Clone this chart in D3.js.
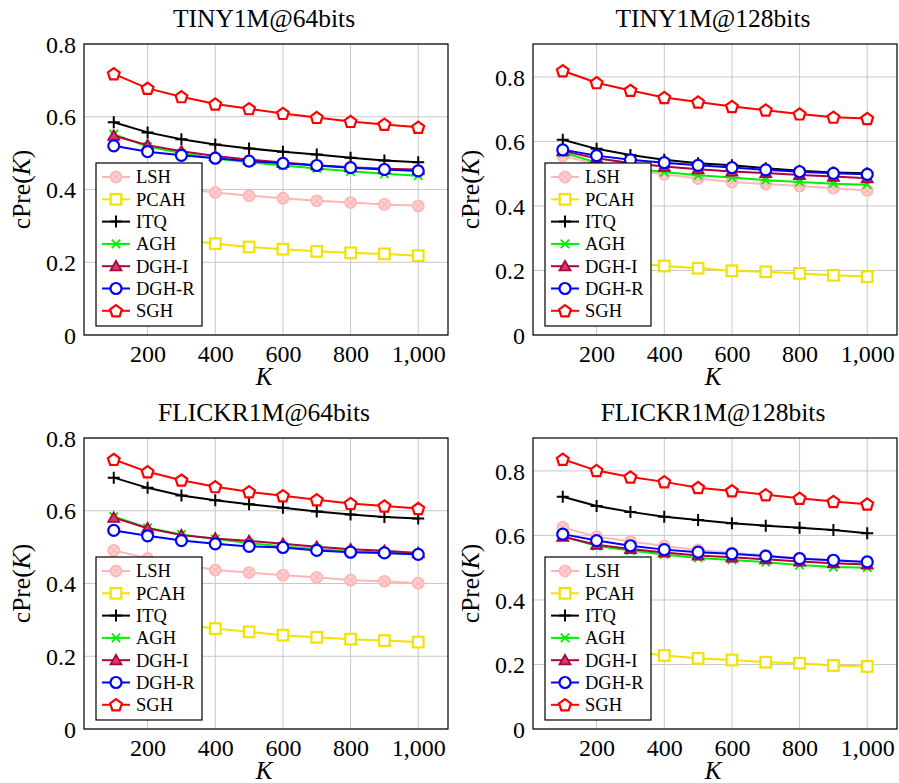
<!DOCTYPE html>
<html>
<head>
<meta charset="utf-8">
<script src="https://cdn.jsdelivr.net/npm/d3@7"></script>
<style>
  html, body { margin: 0; padding: 0; background: #fff; }
  svg { display: block; font-family: "Liberation Serif", "DejaVu Serif", serif; }
</style>
</head>
<body>
<svg id="chart" width="899" height="783"></svg>
<script>
// ---------------- data ----------------
const K = [100, 200, 300, 400, 500, 600, 700, 800, 900, 1000];
const methods = ["LSH", "PCAH", "ITQ", "AGH", "DGH-I", "DGH-R", "SGH"];
const xTicks = [200, 400, 600, 800, 1000];
const xTickLabels = ["200", "400", "600", "800", "1,000"];
const yTicks = [0, 0.2, 0.4, 0.6, 0.8];
const yTickLabels = ["0", "0.2", "0.4", "0.6", "0.8"];
const titles = ["TINY1M@64bits", "TINY1M@128bits", "FLICKR1M@64bits", "FLICKR1M@128bits"];
const yMax = [0.8, 0.902, 0.8, 0.902];

// series values, in order of `methods`
const tiny64 = [
  [0.448, 0.420, 0.403, 0.392, 0.383, 0.376, 0.369, 0.364, 0.359, 0.355],
  [0.300, 0.276, 0.262, 0.251, 0.242, 0.236, 0.230, 0.226, 0.223, 0.218],
  [0.585, 0.557, 0.538, 0.524, 0.513, 0.504, 0.496, 0.487, 0.480, 0.475],
  [0.552, 0.518, 0.500, 0.485, 0.475, 0.466, 0.458, 0.450, 0.443, 0.438],
  [0.548, 0.522, 0.505, 0.492, 0.482, 0.474, 0.467, 0.461, 0.457, 0.455],
  [0.520, 0.504, 0.494, 0.486, 0.478, 0.472, 0.466, 0.460, 0.455, 0.451],
  [0.718, 0.678, 0.655, 0.635, 0.622, 0.609, 0.598, 0.587, 0.579, 0.571]
];
const tiny128 = [
  [0.555, 0.530, 0.512, 0.498, 0.485, 0.474, 0.468, 0.462, 0.455, 0.448],
  [0.270, 0.240, 0.225, 0.214, 0.207, 0.199, 0.196, 0.191, 0.185, 0.181],
  [0.605, 0.577, 0.558, 0.543, 0.532, 0.526, 0.517, 0.509, 0.504, 0.501],
  [0.565, 0.535, 0.518, 0.505, 0.495, 0.488, 0.480, 0.474, 0.469, 0.466],
  [0.570, 0.548, 0.533, 0.522, 0.514, 0.507, 0.502, 0.496, 0.491, 0.486],
  [0.574, 0.556, 0.543, 0.534, 0.526, 0.519, 0.512, 0.506, 0.501, 0.498],
  [0.819, 0.782, 0.758, 0.736, 0.722, 0.708, 0.697, 0.685, 0.675, 0.671]
];
const flickr64 = [
  [0.491, 0.469, 0.453, 0.437, 0.430, 0.423, 0.417, 0.409, 0.406, 0.401],
  [0.330, 0.305, 0.287, 0.276, 0.267, 0.258, 0.252, 0.247, 0.243, 0.239],
  [0.691, 0.663, 0.642, 0.629, 0.618, 0.608, 0.598, 0.590, 0.583, 0.579],
  [0.584, 0.553, 0.535, 0.522, 0.511, 0.502, 0.495, 0.488, 0.485, 0.480],
  [0.581, 0.552, 0.533, 0.524, 0.517, 0.509, 0.501, 0.494, 0.490, 0.484],
  [0.546, 0.531, 0.518, 0.509, 0.502, 0.499, 0.491, 0.486, 0.484, 0.480],
  [0.741, 0.707, 0.684, 0.666, 0.652, 0.641, 0.630, 0.620, 0.613, 0.606]
];
const flickr128 = [
  [0.625, 0.596, 0.581, 0.567, 0.555, 0.546, 0.538, 0.530, 0.523, 0.518],
  [0.280, 0.255, 0.240, 0.228, 0.219, 0.214, 0.207, 0.204, 0.197, 0.194],
  [0.720, 0.691, 0.673, 0.658, 0.648, 0.638, 0.630, 0.624, 0.617, 0.607],
  [0.598, 0.567, 0.553, 0.541, 0.530, 0.524, 0.517, 0.508, 0.502, 0.500],
  [0.596, 0.571, 0.558, 0.547, 0.538, 0.532, 0.526, 0.519, 0.514, 0.510],
  [0.604, 0.584, 0.568, 0.556, 0.548, 0.543, 0.536, 0.528, 0.523, 0.518],
  [0.836, 0.801, 0.781, 0.766, 0.748, 0.738, 0.726, 0.715, 0.705, 0.697]
];
const panelData = [tiny64, tiny128, flickr64, flickr128];

// ---------------- styles ----------------
const colors = ["#ffb6b6", "#f2e200", "#000000", "#00ee00", "#b0003f", "#0000ff", "#ff0000"];
const fills  = ["#ffd2d2", "#ffffff", "none", "none", "#c84070", "#ffffff", "#ffffff"];
const markerKinds = ["otimes", "square", "plus", "cross", "triangle", "circle", "pentagon"];

const svg = d3.select("#chart");
const PW = 364, PH = 291;
const origins = [[84, 44], [533, 44], [84, 438], [533, 438]];

function drawMarker(g, kind, x, y, color, fill) {
  if (kind === "circle") {
    g.append("circle").attr("cx", x).attr("cy", y).attr("r", 5.5)
      .attr("fill", fill).attr("stroke", color).attr("stroke-width", 2.2);
  } else if (kind === "otimes") {
    const r = 5.5;
    g.append("circle").attr("cx", x).attr("cy", y).attr("r", r)
      .attr("fill", fill).attr("stroke", color).attr("stroke-width", 1.8);
    const d = r * 0.7;
    g.append("path").attr("d", `M${x-d},${y-d}L${x+d},${y+d}M${x-d},${y+d}L${x+d},${y-d}`)
      .attr("stroke", color).attr("stroke-width", 1.3).attr("fill", "none");
  } else if (kind === "square") {
    const s = 5.3;
    g.append("rect").attr("x", x - s).attr("y", y - s).attr("width", 2 * s).attr("height", 2 * s)
      .attr("fill", fill).attr("stroke", color).attr("stroke-width", 2.2);
  } else if (kind === "plus") {
    const s = 6;
    g.append("path").attr("d", `M${x-s},${y}L${x+s},${y}M${x},${y-s}L${x},${y+s}`)
      .attr("stroke", color).attr("stroke-width", 2).attr("fill", "none");
  } else if (kind === "cross") {
    const s = 4.2;
    g.append("path").attr("d", `M${x-s},${y-s}L${x+s},${y+s}M${x-s},${y+s}L${x+s},${y-s}`)
      .attr("stroke", color).attr("stroke-width", 1.8).attr("fill", "none");
  } else if (kind === "triangle") {
    const r = 6.3;
    const pts = [0, 1, 2].map(i => {
      const a = -Math.PI / 2 + i * 2 * Math.PI / 3;
      return [x + r * Math.cos(a), y + 1 + r * Math.sin(a)];
    });
    g.append("path").attr("d", "M" + pts.join("L") + "Z")
      .attr("fill", fill).attr("stroke", color).attr("stroke-width", 1.8);
  } else if (kind === "pentagon") {
    const r = 6.2;
    const pts = [0, 1, 2, 3, 4].map(i => {
      const a = -Math.PI / 2 + i * 2 * Math.PI / 5;
      return [x + r * Math.cos(a), y + 0.5 + r * Math.sin(a)];
    });
    g.append("path").attr("d", "M" + pts.join("L") + "Z")
      .attr("fill", fill).attr("stroke", color).attr("stroke-width", 2.2);
  }
}

panelData.forEach((series, p) => {
  const [ox, oy] = origins[p];
  const g = svg.append("g").attr("transform", `translate(${ox},${oy})`);
  const x = d3.scaleLinear().domain([12, 1088]).range([0, PW]);
  const y = d3.scaleLinear().domain([0, yMax[p]]).range([PH, 0]);

  // grid
  const grid = g.append("g");
  xTicks.forEach(t => grid.append("line").attr("x1", x(t)).attr("x2", x(t)).attr("y1", 0).attr("y2", PH)
    .attr("stroke", "#c8c8c8").attr("stroke-width", 1));
  yTicks.forEach(t => grid.append("line").attr("x1", 0).attr("x2", PW).attr("y1", y(t)).attr("y2", y(t))
    .attr("stroke", "#c8c8c8").attr("stroke-width", 1));

  // axes via d3
  const xAxis = d3.axisBottom(x).tickValues(xTicks).tickFormat((d, i) => xTickLabels[i]).tickSize(0).tickPadding(8);
  const yAxis = d3.axisLeft(y).tickValues(yTicks).tickFormat((d, i) => yTickLabels[i]).tickSize(0).tickPadding(8);
  const gx = g.append("g").attr("transform", `translate(0,${PH})`).call(xAxis);
  const gy = g.append("g").call(yAxis);
  [gx, gy].forEach(a => {
    a.select(".domain").remove();
    a.selectAll("text").attr("font-family", "Liberation Serif, serif").attr("font-size", 24).attr("fill", "#000");
  });
  gx.selectAll("text").attr("dy", "0.78em");
  gy.selectAll("text").attr("dy", "0.34em");

  // lines + markers
  const line = d3.line().x((d, i) => x(K[i])).y(d => y(d));
  series.forEach((vals, m) => {
    g.append("path").datum(vals).attr("d", line).attr("fill", "none")
      .attr("stroke", colors[m]).attr("stroke-width", 2).attr("stroke-linejoin", "round");
    const mg = g.append("g");
    vals.forEach((v, i) => drawMarker(mg, markerKinds[m], x(K[i]), y(v), colors[m], fills[m]));
  });

  // frame
  g.append("rect").attr("x", 0).attr("y", 0).attr("width", PW).attr("height", PH)
    .attr("fill", "none").attr("stroke", "#000").attr("stroke-width", 1.2);

  // title
  g.append("text").attr("x", PW / 2 - 2).attr("y", -17).attr("text-anchor", "middle")
    .attr("font-size", 25.5).attr("fill", "#000").text(titles[p]);

  // x label
  g.append("text").attr("x", PW / 2 - 2).attr("y", PH + 50).attr("text-anchor", "middle")
    .attr("font-size", 25).attr("font-style", "italic").attr("fill", "#000").text("K");

  // y label
  const yl = g.append("text").attr("transform", `translate(-54,${PH / 2}) rotate(-90)`)
    .attr("text-anchor", "middle").attr("font-size", 25.5).attr("fill", "#000");
  yl.append("tspan").text("cPre(");
  yl.append("tspan").attr("font-style", "italic").text("K");
  yl.append("tspan").text(")");

  // legend
  const lx = 12, ly = 119, lw = 106, lh = 163, rowH = 22.3;
  const lg = g.append("g").attr("transform", `translate(${lx},${ly})`);
  lg.append("rect").attr("width", lw).attr("height", lh).attr("fill", "#fff")
    .attr("stroke", "#000").attr("stroke-width", 1.2);
  methods.forEach((name, m) => {
    const cy = 14 + m * rowH;
    lg.append("line").attr("x1", 6).attr("x2", 34).attr("y1", cy).attr("y2", cy)
      .attr("stroke", colors[m]).attr("stroke-width", 2);
    drawMarker(lg, markerKinds[m], 20, cy, colors[m], fills[m]);
    lg.append("text").attr("x", 40).attr("y", cy).attr("dy", "0.35em")
      .attr("font-size", 18.5).attr("fill", "#000").text(name);
  });
});
</script>
</body>
</html>
